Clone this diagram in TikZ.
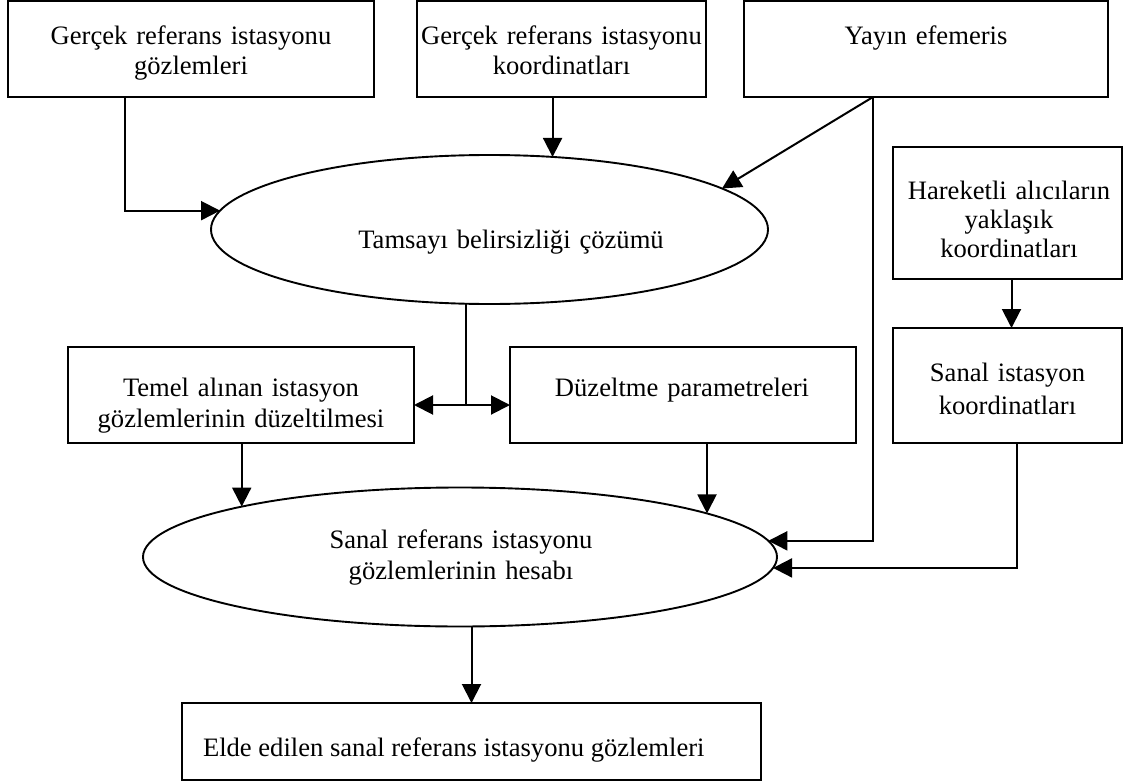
\documentclass[tikz,border=0pt]{standalone}
\usepackage{fontspec}
\setmainfont{Liberation Serif}
\usetikzlibrary{arrows.meta,shapes.geometric}
\begin{document}
\begin{tikzpicture}[x=1pt,y=-1pt,
  boxs/.style={draw,line width=2pt,inner sep=0pt,outer sep=0pt,rectangle},
  ell/.style={draw,line width=1.9pt,ellipse,inner sep=0pt,outer sep=0pt},
  txt/.style={inner sep=0pt,outer sep=0pt,font=\fontsize{26.6}{30}\selectfont,align=center,anchor=base},
  arr/.style={line width=2pt,-{Triangle[length=19pt,width=19pt]}},
  ln/.style={line width=2pt}]
\useasboundingbox (0,0) rectangle (1125,784);

% boxes
\node[boxs,minimum width=366pt,minimum height=96pt] (b1) at (191,49) {};
\node[boxs,minimum width=289pt,minimum height=96pt] (b2) at (561.5,49) {};
\node[boxs,minimum width=364pt,minimum height=96pt] (b3) at (926,49) {};
\node[boxs,minimum width=229pt,minimum height=132pt] (b4) at (1007.5,213) {};
\node[boxs,minimum width=229pt,minimum height=115pt] (b5) at (1007.5,385.5) {};
\node[boxs,minimum width=346pt,minimum height=96pt] (b6) at (241,395) {};
\node[boxs,minimum width=346pt,minimum height=96pt] (b7) at (683,395) {};
\node[boxs,minimum width=579pt,minimum height=77pt] (b8) at (471.5,741.5) {};

% ellipses
\node[ell,minimum width=557pt,minimum height=149pt] (e1) at (489.5,229.5) {};
\node[ell,minimum width=634pt,minimum height=139pt] (e2) at (460,557) {};

% texts
\node[txt,text width=360pt] (t1) at (191,45) {Gerçek referans istasyonu\\gözlemleri};
\node[txt,text width=285pt] (t2) at (561.5,45) {Gerçek referans istasyonu\\koordinatları};
\node[txt,text width=360pt] (t3) at (926,45) {Yayın efemeris};
\node[txt,text width=225pt] (t4) at (1009,199) {Hareketli alıcıların\\[-1pt]yaklaşık\\[-1pt]koordinatları};
\node[txt,text width=225pt] (t5) at (1007.5,381) {Sanal istasyon\\[3pt]koordinatları};
\node[txt,text width=340pt] (t6) at (241,396) {Temel alınan istasyon\\[1pt]gözlemlerinin düzeltilmesi};
\node[txt,text width=340pt] (t7) at (682,396) {Düzeltme parametreleri};
\node[txt,text width=400pt] (t8) at (511,248) {Tamsayı belirsizliği çözümü};
\node[txt,text width=400pt] (t9) at (461,548) {Sanal referans istasyonu\\[1pt]gözlemlerinin hesabı};
\node[txt,anchor=base west,align=left] (t10) at (203,756) {Elde edilen sanal referans istasyonu gözlemleri};

% connectors
\coordinate (b1o) at ([xshift=117pt]b1.south west);
\draw[arr] (b1o) |- (e1.176.5);
\draw[arr] (e1.49.3 |- b2.south) -- (e1.49.3);
\coordinate (b3o) at ([xshift=129pt]b3.south west);
\draw[arr] (b3o) -- (e1.10);
\draw[arr] (b3o) |- (e2.3.56);
\draw[arr] ([xshift=4pt]b4.south) -- ([xshift=4pt]b5.north);
\coordinate (b5o) at ([xshift=9.5pt]b5.south);
\draw[arr] (b5o) |- (e2.-2.2);
\coordinate (j) at (466,405);
\draw[ln] (e1.south -| j) -- (j);
\draw[arr] (j) -- (j -| b6.east);
\draw[arr] (j) -- (j -| b7.west);
\draw[arr] (e2.167.2 |- b6.south) -- (e2.167.2);
\draw[arr] (e2.10.2 |- b7.south) -- (e2.10.2);
\draw[arr] (b8.north |- e2.south) -- (b8.north);
\end{tikzpicture}
\end{document}
